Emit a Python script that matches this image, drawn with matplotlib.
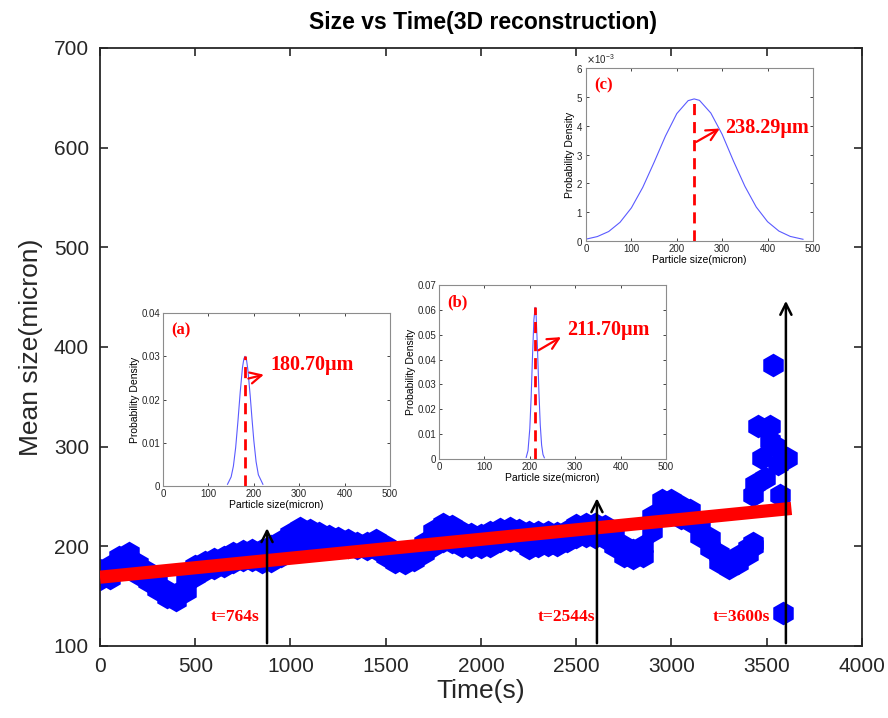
import numpy as np
import matplotlib.pyplot as plt
from matplotlib.ticker import ScalarFormatter, FuncFormatter

plt.rcParams['font.family'] = ['Liberation Sans', 'DejaVu Sans']

# mean size band (upper / lower marker centres)
time_s = [0, 50, 100, 150, 200, 250, 300, 350, 400, 450, 500, 550, 600, 650, 700,
          750, 800, 850, 900, 950, 1000, 1050, 1100, 1150, 1200, 1250, 1300, 1350,
          1400, 1450, 1500, 1550, 1600, 1650, 1700, 1750, 1800, 1850, 1900, 1950,
          2000, 2050, 2100, 2150, 2200, 2250, 2300, 2350, 2400, 2450, 2500, 2550,
          2600, 2650, 2700, 2750, 2800, 2850, 2900, 2950, 3000, 3050, 3100, 3150,
          3200, 3250, 3300, 3350, 3400, 3430]
size_hi = [176, 180, 189, 193, 182, 174, 165, 155, 152, 165, 180, 184, 187, 189, 193,
           195, 196, 196, 200, 205, 212, 218, 216, 213, 210, 208, 206, 203,
           203, 206, 200, 192, 190, 194, 203, 215, 222, 220, 214, 212,
           211, 214, 217, 218, 216, 214, 214, 214, 213, 215, 221, 222,
           222, 220, 212, 200, 196, 200, 230, 246, 246, 240, 236, 222,
           208, 192, 182, 190, 198, 203]
size_lo = [167, 168, 178, 183, 172, 165, 157, 149, 146, 155, 170, 176, 178, 180, 184,
           186, 186, 184, 185, 190, 198, 205, 203, 200, 200, 199, 199, 198,
           197, 197, 190, 184, 183, 186, 193, 200, 205, 204, 200, 199,
           199, 200, 205, 206, 205, 198, 200, 201, 201, 205, 209, 210,
           209, 208, 200, 190, 188, 190, 215, 232, 232, 228, 225, 210,
           198, 184, 178, 183, 192, 200]

# scattered points at the end of the run
tail_t = [3430, 3439, 3474, 3491, 3455, 3517, 3517, 3535, 3544, 3562, 3570, 3605, 3588]
tail_size = [251, 263, 289, 269, 321, 321, 306, 382, 301, 283, 251, 289, 133]

# linear fit
fit_t = [0, 3630]
fit_size = [169, 238]

# arrows and their labels
arrow_t = [877, 2609, 3601]
arrow_top = [221, 251, 449]
arrow_labels = ['t=764s', 't=2544s', 't=3600s']
label_t = [835, 2598, 3517]

# inset pdf curves
pa_x = [142, 150, 155, 160, 165, 170, 175, 178, 180.7, 184, 187, 192, 196, 200, 205, 210, 220]
pa_y = [0.0004, 0.0021, 0.0046, 0.0089, 0.015, 0.0217, 0.0274, 0.0294, 0.030, 0.0291,
        0.0268, 0.0209, 0.0155, 0.0105, 0.0056, 0.0026, 0.0004]
pb_x = [192, 196, 200, 203, 206, 209, 211.7, 214, 217, 220, 223, 226, 229, 232]
pb_y = [0.00065, 0.0034, 0.0123, 0.0252, 0.0417, 0.056, 0.061, 0.0573, 0.0439, 0.0272,
        0.0137, 0.0056, 0.0018, 0.0005]
pc_x = [0, 25, 50, 75, 100, 125, 150, 175, 200, 225, 238.3, 250, 275, 300, 325, 350,
        375, 400, 425, 450, 478]
pc_y = [0.065, 0.155, 0.33, 0.65, 1.15, 1.86, 2.73, 3.64, 4.42, 4.87, 4.93, 4.88, 4.44,
        3.70, 2.77, 1.90, 1.18, 0.67, 0.345, 0.16, 0.061]
pc_y = [v * 1e-3 for v in pc_y]

fig = plt.figure(figsize=(8.88, 7.18), dpi=100)
ax = fig.add_axes([0.1126, 0.1003, 0.858, 0.833])

for yy in (size_hi, size_lo):
    ax.scatter(time_s, yy, s=290, marker='h', color='#0000ff', linewidths=0, zorder=2)
ax.scatter(tail_t, tail_size, s=290, marker='h', color='#0000ff', linewidths=0, zorder=2)
ax.plot(fit_t, fit_size, color='#ff0000', lw=9.5, solid_capstyle='butt', zorder=3)

for t, top, lab, lt in zip(arrow_t, arrow_top, arrow_labels, label_t):
    ax.annotate('', xy=(t, top), xytext=(t, 100),
                arrowprops=dict(arrowstyle='->,head_length=0.8,head_width=0.4',
                                color='black', lw=1.8), zorder=5)
    ax.text(lt, 129, lab, color='#ff0000', fontsize=12.5, fontweight='bold',
            family='Liberation Serif', ha='right', va='center', zorder=5)

ax.set_xlim(0, 4000)
ax.set_ylim(100, 700)
ax.set_xticks(np.arange(0, 4001, 500))
ax.set_yticks(np.arange(100, 701, 100))
ax.tick_params(direction='in', length=6, width=1.2, top=True, right=True,
               labelsize=15, colors='#262626', pad=8)
for sp in ax.spines.values():
    sp.set_color('#262626')
    sp.set_linewidth(1.3)
ax.set_xlabel('Time(s)', fontsize=19, color='#262626', labelpad=2)
ax.set_ylabel('Mean size(micron)', fontsize=19, color='#262626', labelpad=8)
fig.text(0.544, 0.968, 'Size vs Time(3D reconstruction)', ha='center', va='center',
         fontsize=16.5, fontweight='bold')


def tick_fmt(v, pos):
    return '0' if abs(v) < 1e-12 else '%.2f' % v


def inset(rect, x, y, mean, ymax, ystep, tag, ann, tail, head, txt):
    ia = fig.add_axes(rect)
    ia.plot(x, y, color='#5a5aff', lw=0.8)
    peak = max(y)
    ia.plot([mean, mean], [0, peak], color='#ff0000', lw=2.0, ls=(0, (4, 2.5)))
    ia.annotate('', xy=head, xytext=tail,
                arrowprops=dict(arrowstyle='->,head_length=0.8,head_width=0.4',
                                color='#ff0000', lw=1.6))
    ia.text(txt[0], txt[1], ann, color='#ff0000', fontsize=14.5, fontweight='bold',
            family='Liberation Serif', va='center', ha='left')
    ia.text(0.035, 0.9, tag, transform=ia.transAxes, color='#ff0000', fontsize=12,
            fontweight='bold', family='Liberation Serif', va='center')
    ia.set_xlim(0, 500)
    ia.set_ylim(0, ymax)
    ia.set_xticks(np.arange(0, 501, 100))
    ia.set_yticks(np.arange(0, ymax + ystep / 2, ystep))
    ia.yaxis.set_major_formatter(FuncFormatter(tick_fmt))
    ia.tick_params(direction='in', length=2.5, width=0.6, top=True, right=True,
                   labelsize=7, colors='#262626', pad=2)
    for sp in ia.spines.values():
        sp.set_color('#8c8c8c')
        sp.set_linewidth(0.8)
    ia.set_xlabel('Particle size(micron)', fontsize=7.5, labelpad=1)
    ia.set_ylabel('Probability Density', fontsize=7.5, labelpad=1)
    return ia


inset([0.1836, 0.3231, 0.2556, 0.2409], pa_x, pa_y, 180.7, 0.04, 0.01, '(a)',
      '180.70\u03bcm', (182, 0.0247), (228, 0.0259), (236, 0.028))
inset([0.4944, 0.3607, 0.2556, 0.2423], pb_x, pb_y, 211.7, 0.07, 0.01, '(b)',
      '211.70\u03bcm', (214, 0.0432), (274, 0.0496), (282, 0.0519))
ic = inset([0.6599, 0.6643, 0.2556, 0.2409], pc_x, pc_y, 238.29, 0.006, 0.001, '(c)',
           '238.29\u03bcm', (237.5, 0.00339), (300, 0.00395), (306, 0.00392))
fmt = ScalarFormatter(useMathText=True)
fmt.set_powerlimits((-2, 2))
ic.yaxis.set_major_formatter(fmt)
ic.yaxis.get_offset_text().set_fontsize(7)

fig.savefig('out.png', dpi=100)
